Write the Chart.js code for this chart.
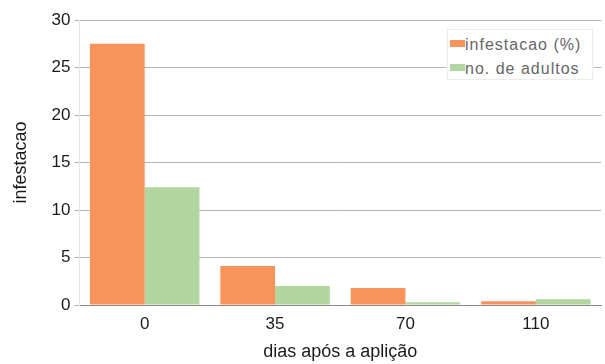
<!DOCTYPE html>
<html>
<head>
<meta charset="utf-8">
<script src="https://cdn.jsdelivr.net/npm/chart.js@4"></script>
<style>
  body { margin: 0; background: #fff; }
  #wrap { position: relative; width: 605px; height: 364px; }
  #legend {
    position: absolute; left: 447px; top: 29px; width: 146px; height: 51px;
    background: #fff; border: 1px solid #ececec; box-sizing: border-box;
    font: 16px "Liberation Sans", Arial, sans-serif; color: #666;
    letter-spacing: 1px; padding: 3px 0 0 2px; line-height: 24px;
    white-space: nowrap;
  }
  #legend span.sw { display: inline-block; width: 15px; height: 7px; margin-right: 0; vertical-align: 3px; }
</style>
</head>
<body>
<div id="wrap">
  <canvas id="chart" width="605" height="364"></canvas>
  <div id="legend"></div>
</div>
<script>
// days after application
const dias = ["0", "35", "70", "110"];
const infestacao = [27.5, 4.1, 1.8, 0.4];
const adultos = [12.4, 2.0, 0.3, 0.6];
const yTicks = [0, 5, 10, 15, 20, 25, 30];

const orange = "#f9935c";
const green = "#b2d6a0";

const tickFont = { family: "Liberation Sans", size: 17 };
const titleFont = { family: "Liberation Sans", size: 18 };

const ctx = document.getElementById("chart").getContext("2d");
const chart = new Chart(ctx, {
    type: "bar",
    data: {
        labels: dias,
        datasets: [
            { label: "infestacao (%)", data: infestacao, backgroundColor: orange },
            { label: "no. de adultos", data: adultos, backgroundColor: green },
        ],
    },
    options: {
        responsive: false,
        animation: false,
        layout: { padding: { left: 6, right: 4, top: 20, bottom: 0 } },
        datasets: {
            bar: { barPercentage: 1, categoryPercentage: 0.84 },
        },
        plugins: {
            legend: { display: false },
            tooltip: { enabled: false },
        },
        scales: {
            x: {
                grid: { display: false },
                border: { color: "#888" },
                ticks: { color: "#1a1a1a", font: tickFont, padding: 1 },
                title: {
                    display: true,
                    text: "dias após a aplição",
                    color: "#1a1a1a",
                    font: titleFont,
                    padding: { top: 6, bottom: 1 },
                },
            },
            y: {
                min: 0,
                max: 30,
                afterBuildTicks: (axis) => {
                    axis.ticks = yTicks.map((v) => ({ value: v }));
                },
                grid: { color: "#b4b4b4", tickLength: 5, drawTicks: true },
                border: { color: "#e6e6e6" },
                ticks: { color: "#1a1a1a", font: tickFont, padding: 4 },
                title: {
                    display: true,
                    text: "infestacao",
                    color: "#1a1a1a",
                    font: titleFont,
                    padding: { bottom: 16 },
                },
            },
        },
    },
});

// legend drawn as html on top of the plot area
const legend = document.getElementById("legend");
chart.data.datasets.forEach((ds) => {
    const row = document.createElement("div");
    const sw = document.createElement("span");
    sw.className = "sw";
    sw.style.background = ds.backgroundColor;
    row.appendChild(sw);
    row.appendChild(document.createTextNode(ds.label));
    legend.appendChild(row);
});
</script>
</body>
</html>
